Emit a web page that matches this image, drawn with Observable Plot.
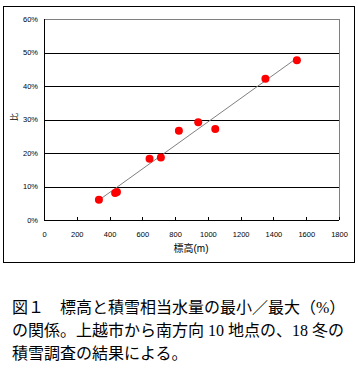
<!DOCTYPE html>
<html>
<head>
<meta charset="utf-8">
<script src="https://cdn.jsdelivr.net/npm/d3@7"></script>
<script src="https://cdn.jsdelivr.net/npm/@observablehq/plot@0.6"></script>
<style>
  html, body { margin: 0; padding: 0; background: #fff; }
  body { width: 358px; height: 391px; position: relative; overflow: hidden; }
  #chart { position: absolute; left: 3px; top: 6px; width: 350px; height: 255px; border: 1px solid #000; }
  #chart svg { display: block; }
  #caption { position: absolute; left: 12px; top: 296px; font-family: "Liberation Serif", "Noto Sans CJK JP", serif; font-size: 16px; line-height: 23px; white-space: nowrap; color: #000; }
</style>
</head>
<body>
<div id="chart"></div>
<div id="caption">図１　標高と積雪相当水量の最小／最大（%）<br>の関係。上越市から南方向 10 地点の、18 冬の<br>積雪調査の結果による。</div>
<script>
const elevation = [332, 431, 442, 641, 710, 820, 938, 1042, 1348, 1540];
const ratio = [6.2, 8.2, 8.5, 18.4, 18.8, 26.8, 29.3, 27.3, 42.3, 47.8];
const xTicks = [0, 200, 400, 600, 800, 1000, 1200, 1400, 1600, 1800];
const yTicks = [0, 10, 20, 30, 40, 50, 60];
const xTitle = "標高(m)";
const yTitle = "比";

const data = elevation.map((x, i) => ({x, y: ratio[i]}));
const gridTicks = yTicks.filter(d => d > 0 && d < 60);
const crisp = {shapeRendering: "crispEdges"};

const chart = Plot.plot({
  width: 350,
  height: 255,
  marginLeft: 40,
  marginRight: 15,
  marginTop: 12,
  marginBottom: 42,
  style: {fontFamily: "Liberation Sans, Arial, sans-serif", fontSize: "7.5px", background: "#fff", color: "#000"},
  x: {domain: [0, 1800], ticks: xTicks},
  y: {domain: [0, 60], ticks: yTicks},
  marks: [
    Plot.ruleY(gridTicks, {stroke: "#000", strokeWidth: 1, ...crisp}),
    Plot.ruleY([60], {stroke: "#808080", ...crisp}),
    Plot.ruleX([1800], {stroke: "#808080", ...crisp}),
    Plot.ruleX(xTicks, {y1: 0, y2: 0.9, stroke: "#000", ...crisp}),
    Plot.ruleY([0], {stroke: "#000", ...crisp}),
    Plot.ruleX([0], {stroke: "#000", ...crisp}),
    Plot.linearRegressionY(data, {x: "x", y: "y", stroke: "#808080", strokeWidth: 1, ci: 0}),
    Plot.dot(data, {x: "x", y: "y", r: 4, fill: "#ff0000", stroke: "none"}),
    Plot.axisY({ticks: yTicks, tickSize: 0, tickPadding: 6.5, tickFormat: d => d + "%", label: null, fill: "#000"}),
    Plot.axisX({ticks: xTicks, tickSize: 0, tickPadding: 11, tickFormat: d => String(d), label: null, fill: "#000"}),
    Plot.text([xTitle], {text: d => d, frameAnchor: "bottom", dy: 31, dx: -1, fontSize: 10, fill: "#000", fontFamily: "Liberation Sans, Noto Sans CJK JP, sans-serif"}),
    Plot.text([yTitle], {text: d => d, frameAnchor: "left", dx: -30, dy: 1, rotate: -90, fontSize: 8, fill: "#000", fontFamily: "Noto Sans CJK JP, sans-serif"})
  ]
});
document.getElementById("chart").appendChild(chart);
</script>
</body>
</html>
